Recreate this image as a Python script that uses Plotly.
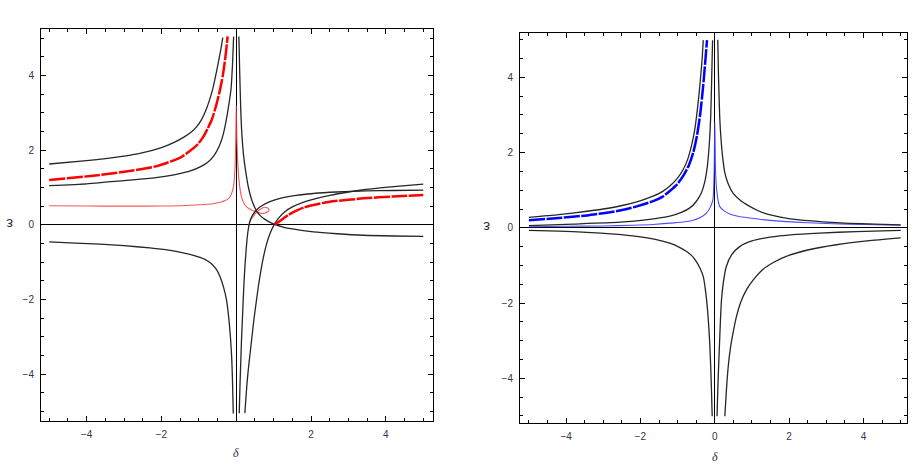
import plotly.graph_objects as go

# ---------------- Left panel data (delta, epsilon) ----------------
L_black_a_d = [-5.0, -4.0, -3.44, -3.0, -2.55, -2.0, -1.66, -1.4, -1.21, -1.05, -0.94, -0.82, -0.72, -0.62, -0.54, -0.47, -0.41, -0.36]
L_black_a_e = [1.63, 1.72, 1.78, 1.84, 1.92, 2.07, 2.21, 2.35, 2.48, 2.64, 2.80, 3.05, 3.33, 3.68, 4.05, 4.40, 4.72, 5.02]

L_red_thick_d = [-5.0, -3.89, -2.99, -2.10, -1.48, -1.25, -1.03, -0.90, -0.77, -0.65, -0.54, -0.45, -0.36, -0.29, -0.23]
L_red_thick_e = [1.20, 1.31, 1.42, 1.58, 1.81, 1.97, 2.16, 2.33, 2.57, 2.83, 3.19, 3.55, 4.0, 4.5, 5.05]

L_black_b_d = [-5.0, -4.0, -3.44, -2.7, -2.1, -1.6, -1.21, -0.95, -0.77, -0.6, -0.45, -0.35, -0.28, -0.21, -0.14, -0.10, -0.07]
L_black_b_e = [1.05, 1.10, 1.15, 1.21, 1.27, 1.35, 1.45, 1.56, 1.67, 1.85, 2.12, 2.42, 2.74, 3.15, 3.64, 4.30, 5.05]

L_black_c_d = [0.07, 0.085, 0.10, 0.12, 0.14, 0.17, 0.20, 0.26, 0.33, 0.41, 0.48, 0.55, 0.65, 0.75, 0.88, 1.03, 1.25, 1.5, 2.06, 2.7, 3.4, 4.2, 5.0]
L_black_c_e = [5.05, 4.4, 3.8, 3.1, 2.6, 2.15, 1.82, 1.38, 0.98, 0.68, 0.50, 0.36, 0.24, 0.16, 0.08, 0.01, -0.06, -0.11, -0.19, -0.24, -0.28, -0.30, -0.31]

L_black_d_d = [0.08, 0.10, 0.12, 0.14, 0.17, 0.20, 0.23, 0.27, 0.31, 0.36, 0.42, 0.50, 0.60, 0.72, 0.90, 1.17, 1.6, 2.06, 2.68, 3.5, 4.2, 5.0]
L_black_d_e = [-5.05, -4.3, -3.7, -3.1, -2.4, -1.7, -1.15, -0.6, -0.2, 0.08, 0.23, 0.35, 0.45, 0.53, 0.62, 0.71, 0.79, 0.84, 0.88, 0.91, 0.92, 0.93]

L_black_e_d = [0.23, 0.28, 0.32, 0.37, 0.42, 0.47, 0.53, 0.59, 0.65, 0.72, 0.80, 0.90, 1.03, 1.15, 1.3, 1.5, 1.75, 2.0, 2.5, 3.0, 3.4, 4.29, 5.0]
L_black_e_e = [-5.05, -4.34, -3.9, -3.45, -3.0, -2.56, -2.1, -1.66, -1.28, -0.9, -0.55, -0.24, 0.03, 0.2, 0.35, 0.48, 0.59, 0.67, 0.79, 0.88, 0.94, 1.03, 1.09]

L_red_thick_r_d = [1.03, 1.15, 1.26, 1.4, 1.61, 1.8, 2.0, 2.5, 3.0, 3.4, 4.2, 5.0]
L_red_thick_r_e = [0.0, 0.09, 0.17, 0.27, 0.38, 0.46, 0.52, 0.62, 0.67, 0.71, 0.76, 0.80]

L_black_f_d = [-5.0, -4.3, -3.64, -3.0, -2.31, -1.8, -1.42, -1.1, -0.85, -0.68, -0.54, -0.44, -0.34, -0.26, -0.20, -0.15, -0.12, -0.10, -0.08]
L_black_f_e = [-0.46, -0.49, -0.52, -0.56, -0.62, -0.68, -0.75, -0.83, -0.92, -1.03, -1.18, -1.37, -1.67, -2.02, -2.5, -3.09, -3.6, -4.2, -5.06]

L_red_thin_d = [-5.0, -4.0, -3.0, -2.0, -1.5, -1.1, -0.77, -0.55, -0.40, -0.30, -0.23, -0.16, -0.12, -0.07, -0.03, -0.012, 0.0,
                0.015, 0.03, 0.05, 0.09, 0.14, 0.22, 0.30, 0.41, 0.55, 0.65, 0.75, 0.84,
                0.88, 0.84, 0.77, 0.68, 0.55, 0.45, 0.38, 0.34]
L_red_thin_e = [0.51, 0.505, 0.50, 0.505, 0.51, 0.53, 0.55, 0.58, 0.61, 0.65, 0.69, 0.76, 0.85, 1.05, 1.6, 2.4, 3.2,
                2.4, 1.9, 1.5, 1.05, 0.75, 0.55, 0.46, 0.40, 0.34, 0.31, 0.31, 0.35,
                0.40, 0.45, 0.47, 0.44, 0.34, 0.22, 0.12, -0.03]

# ---------------- Right panel data ----------------
R_black_a_d = [-5.0, -4.2, -3.44, -3.0, -2.55, -2.1, -1.66, -1.4, -1.21, -1.02, -0.85, -0.73, -0.63, -0.55, -0.49, -0.43, -0.38, -0.34, -0.31]
R_black_a_e = [0.28, 0.35, 0.44, 0.50, 0.58, 0.69, 0.84, 0.97, 1.11, 1.30, 1.55, 1.82, 2.17, 2.55, 2.97, 3.5, 4.03, 4.5, 4.99]

R_blue_thick_d = [-5.0, -4.2, -3.44, -3.0, -2.55, -2.1, -1.66, -1.4, -1.21, -1.02, -0.85, -0.70, -0.58, -0.48, -0.40, -0.34, -0.29, -0.25, -0.21]
R_blue_thick_e = [0.20, 0.26, 0.33, 0.39, 0.46, 0.57, 0.71, 0.83, 0.98, 1.15, 1.38, 1.66, 2.0, 2.45, 2.97, 3.5, 4.03, 4.5, 4.99]

R_black_b_d = [-5.0, -3.8, -2.55, -1.8, -1.21, -0.9, -0.67, -0.5, -0.36, -0.27, -0.20, -0.15, -0.11, -0.085, -0.06]
R_black_b_e = [0.06, 0.10, 0.15, 0.22, 0.31, 0.41, 0.53, 0.70, 0.93, 1.22, 1.64, 2.2, 2.97, 3.9, 4.99]

R_blue_thin_d = [-5.0, -4.0, -3.0, -2.2, -1.66, -1.1, -0.8, -0.58, -0.38, -0.22, -0.12, -0.05, -0.02, 0.0,
                 0.02, 0.05, 0.09, 0.13, 0.25, 0.40, 0.65, 0.94, 1.35, 1.83, 2.5, 3.17, 4.0, 5.0]
R_blue_thin_e = [0.03, 0.04, 0.05, 0.07, 0.09, 0.13, 0.16, 0.20, 0.28, 0.40, 0.55, 0.75, 1.4, 2.8,
                 1.5, 1.01, 0.72, 0.57, 0.45, 0.37, 0.30, 0.26, 0.21, 0.17, 0.135, 0.11, 0.09, 0.07]

R_black_c_d = [0.08, 0.09, 0.10, 0.115, 0.13, 0.15, 0.18, 0.22, 0.27, 0.36, 0.49, 0.7, 0.94, 1.15, 1.39, 1.8, 2.28, 2.9, 3.62, 4.3, 5.0]
R_black_c_e = [5.0, 4.5, 4.0, 3.5, 3.0, 2.6, 2.2, 1.8, 1.46, 1.17, 0.92, 0.72, 0.57, 0.46, 0.37, 0.28, 0.21, 0.16, 0.12, 0.10, 0.08]

R_black_d_d = [-5.0, -4.2, -3.44, -2.7, -2.1, -1.6, -1.21, -0.95, -0.76, -0.62, -0.50, -0.40, -0.31, -0.24, -0.18, -0.14, -0.11, -0.09, -0.07]
R_black_d_e = [-0.07, -0.09, -0.12, -0.17, -0.23, -0.31, -0.41, -0.52, -0.63, -0.74, -0.89, -1.07, -1.30, -1.75, -2.37, -3.0, -3.70, -4.3, -5.01]

R_black_e_d = [0.06, 0.08, 0.10, 0.12, 0.15, 0.18, 0.23, 0.31, 0.45, 0.67, 1.0, 1.48, 2.1, 2.82, 3.8, 5.0]
R_black_e_e = [-5.01, -4.3, -3.75, -3.25, -2.5, -1.92, -1.45, -1.03, -0.72, -0.50, -0.35, -0.25, -0.18, -0.14, -0.10, -0.07]

R_black_f_d = [0.27, 0.31, 0.36, 0.42, 0.50, 0.58, 0.70, 0.85, 1.03, 1.3, 1.6, 1.92, 2.5, 3.27, 4.1, 5.0]
R_black_f_e = [-5.01, -4.35, -3.70, -3.2, -2.75, -2.37, -1.97, -1.65, -1.39, -1.10, -0.91, -0.76, -0.59, -0.45, -0.35, -0.27]

tick_vals = [-4, -2, 0, 2, 4]
tick_text = ["\u22124", "\u22122", "0", "2", "4"]
tick_text_left_x = ["\u22124", "\u22122", "", "2", "4"]

BLACK = "#262626"
fig = go.Figure()


def add(x, y, color, width, xa, ya, dash="solid", opacity=1.0):
    fig.add_trace(go.Scatter(x=x, y=y, mode="lines", xaxis=xa, yaxis=ya,
                             line=dict(color=color, width=width, dash=dash,
                                       shape="spline", smoothing=0.6),
                             opacity=opacity, showlegend=False, hoverinfo="skip"))


# Left panel
add(L_red_thin_d, L_red_thin_e, "#f03c3c", 1.1, "x", "y", opacity=0.85)
add(L_black_a_d, L_black_a_e, BLACK, 1.3, "x", "y")
add(L_black_b_d, L_black_b_e, BLACK, 1.3, "x", "y")
add(L_black_c_d, L_black_c_e, BLACK, 1.3, "x", "y")
add(L_black_d_d, L_black_d_e, BLACK, 1.3, "x", "y")
add(L_black_e_d, L_black_e_e, BLACK, 1.3, "x", "y")
add(L_black_f_d, L_black_f_e, BLACK, 1.3, "x", "y")
add(L_red_thick_d, L_red_thick_e, "#ff0000", 2.5, "x", "y", dash="16px,1.5px")
add(L_red_thick_r_d, L_red_thick_r_e, "#ff0000", 2.5, "x", "y", dash="16px,1.5px")

# Right panel
add(R_blue_thin_d, R_blue_thin_e, "#3a3aff", 1.1, "x2", "y2", opacity=0.9)
add(R_black_a_d, R_black_a_e, BLACK, 1.3, "x2", "y2")
add(R_black_b_d, R_black_b_e, BLACK, 1.3, "x2", "y2")
add(R_black_c_d, R_black_c_e, BLACK, 1.3, "x2", "y2")
add(R_black_d_d, R_black_d_e, BLACK, 1.3, "x2", "y2")
add(R_black_e_d, R_black_e_e, BLACK, 1.3, "x2", "y2")
add(R_black_f_d, R_black_f_e, BLACK, 1.3, "x2", "y2")
add(R_blue_thick_d, R_blue_thick_e, "#0000ff", 2.5, "x2", "y2", dash="16px,1.5px")

W, H = 917, 467
TF = dict(family="Liberation Sans", size=10, color="#33334a")


def axis(domain, rng, texts, anchor):
    return dict(domain=domain, range=rng, anchor=anchor, showgrid=False,
                zeroline=True, zerolinecolor="#000000", zerolinewidth=1,
                showline=True, linecolor="#000000", linewidth=1, mirror="ticks",
                ticks="inside", ticklen=5, tickwidth=1, tickcolor="#000000",
                tickvals=tick_vals, ticktext=texts, tickfont=TF,
                minor=dict(dtick=0.5, tick0=0, ticks="inside", ticklen=3,
                           tickwidth=1, tickcolor="#000000"))


fig.update_layout(
    width=W, height=H, margin=dict(l=0, r=0, t=0, b=0),
    paper_bgcolor="white", plot_bgcolor="white",
    xaxis=axis([41 / W, 433 / W], [-5.22, 5.26], tick_text_left_x, "y"),
    yaxis=axis([1 - 421 / H, 1 - 29 / H], [-5.26, 5.25], tick_text, "x"),
    xaxis2=axis([520 / W, 907 / W], [-5.24, 5.17], tick_text, "y2"),
    yaxis2=axis([1 - 423 / H, 1 - 33 / H], [-5.19, 5.18], tick_text, "x2"),
)
fig.update_xaxes(ticklabelstandoff=4)
fig.update_yaxes(ticklabelstandoff=4)

lab = dict(family="Liberation Serif", size=12, color="#333344")
eps = dict(family="Liberation Sans", size=15, color="#33334a")
annots = [
    dict(x=236 / W, y=1 - 453 / H, text="<i>\u03b4</i>", font=lab),
    dict(x=715 / W, y=1 - 457 / H, text="<i>\u03b4</i>", font=lab),
    dict(x=10 / W, y=1 - 225 / H, text="\u03b5", textangle=180, font=eps),
    dict(x=487 / W, y=1 - 228 / H, text="\u03b5", textangle=180, font=eps),
]
for a in annots:
    fig.add_annotation(xref="paper", yref="paper", showarrow=False,
                       xanchor="center", yanchor="middle", **a)

fig.write_html("out.html")
